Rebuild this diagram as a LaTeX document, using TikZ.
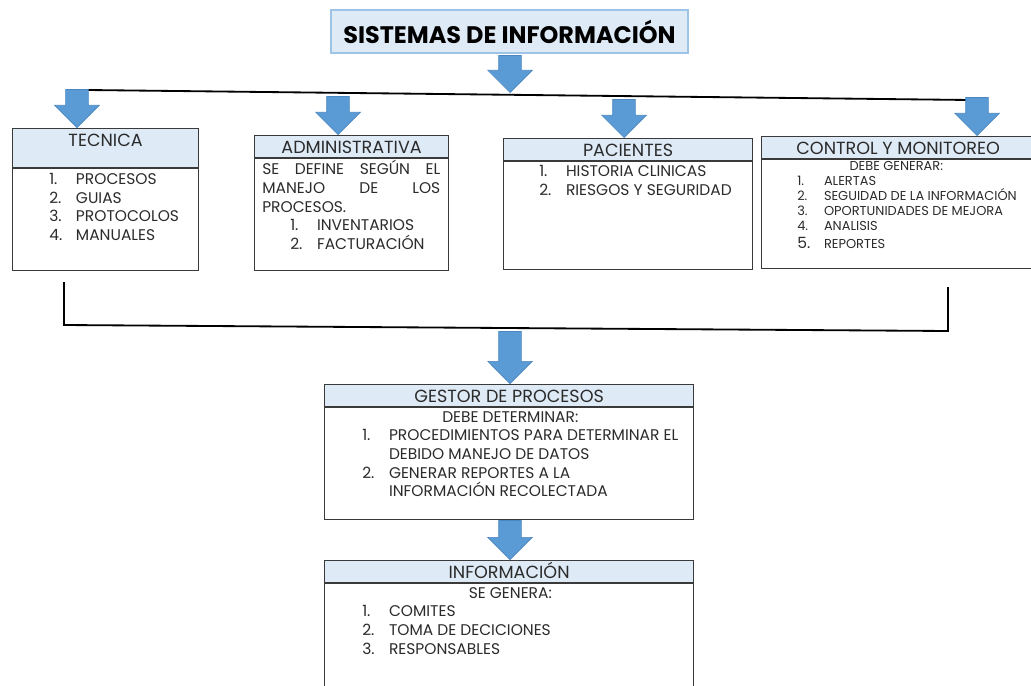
\documentclass[tikz,border=0pt]{standalone}
\usepackage{fontspec}
\setmainfont{Poppins}
\usetikzlibrary{positioning,shapes.arrows,calc}
\definecolor{ArrowBlue}{HTML}{5B9BD5}
\definecolor{ArrowEdge}{HTML}{4A86C0}
\definecolor{HeadBlue}{HTML}{DEEAF6}
\definecolor{TitleEdge}{HTML}{9DC3E6}
\definecolor{BoxEdge}{HTML}{3A3A3A}
\definecolor{TextGray}{HTML}{2B2B2B}

\newcommand{\nr}[1]{\makebox[19pt][l]{#1}}

\begin{document}
\begin{tikzpicture}[x=0.025cm, y=-0.025cm,
  titlebox/.style = {draw=TitleEdge, fill=HeadBlue, line width=0.8pt,
                     minimum width=8.925cm, minimum height=1.075cm,
                     font=\fontsize{17}{20}\selectfont\bfseries, text=black},
  headbox/.style  = {draw=BoxEdge, fill=HeadBlue, line width=0.8pt, inner sep=0pt,
                     text height=0.45cm, text depth=0.1cm, anchor=north west,
                     font=\fontsize{12.5}{15}\selectfont, text=TextGray},
  bodybox/.style  = {draw=BoxEdge, fill=white, line width=0.8pt, inner sep=0pt,
                     anchor=north},
  listtxt/.style  = {inner sep=0pt, align=left, anchor=north west, text=TextGray,
                     font=\fontsize{11}{13.3}\selectfont},
  blockarr/.style = {single arrow, shape border rotate=270, fill=ArrowBlue,
                     draw=ArrowEdge, line width=0.5pt, inner sep=0.275cm,
                     single arrow head extend=0.27cm, minimum height=0.95cm,
                     anchor=tip},
  bus/.style      = {line width=1.3pt, black}
]
  \useasboundingbox (0,0) rectangle (1031,685);

  % title and top bus
  \node[titlebox] (sis) at (509.5,31.5) {SISTEMAS DE INFORMACIÓN};
  \node[blockarr, minimum height=0.925cm] (asis) at (510,93) {};
  \coordinate (busl) at (88,90);
  \coordinate (busr) at (970,100);
  \draw[bus] (busl) -- (busr);

  \node[blockarr] (atec) at (77,128) {};
  \node[blockarr] (aadm) at (338,135) {};
  \node[blockarr] (apac) at (624,138) {};
  \node[blockarr] (acon) at (977,136) {};

  % tecnica
  \node[headbox, minimum width=4.65cm, text height=0.45cm, text depth=0.525cm]
    (tech) at (12,128) {TECNICA};
  \node[bodybox, minimum width=4.65cm, minimum height=2.55cm] (tecb) at (tech.south) {};
  \node[listtxt] (tect) at (49,173)
    {\nr{1.}PROCESOS\\ \nr{2.}GUIAS\\ \nr{3.}PROTOCOLOS\\ \nr{4.}MANUALES};

  % administrativa
  \node[headbox, minimum width=4.85cm] (admh) at (254,135) {ADMINISTRATIVA};
  \node[bodybox, minimum width=4.85cm, minimum height=2.8cm] (admb) at (admh.south) {};
  \node[listtxt] (admt) at (262,160)
    {\makebox[4.45cm][s]{SE DEFINE SEGÚN EL}\\
     \makebox[4.45cm][s]{MANEJO DE LOS}\\
     PROCESOS.\\
     \hspace*{0.7cm}\nr{1.}INVENTARIOS\\
     \hspace*{0.7cm}\nr{2.}FACTURACIÓN};

  % pacientes
  \node[headbox, minimum width=6.225cm] (pach) at (503,138) {PACIENTES};
  \node[bodybox, minimum width=6.225cm, minimum height=2.7cm] (pacb) at (pach.south) {};
  \node[listtxt] (pact) at (539,165)
    {\nr{1.}HISTORIA CLINICAS\\ \nr{2.}RIESGOS Y SEGURIDAD};

  % control y monitoreo
  \node[headbox, minimum width=6.825cm] (conh) at (761,136) {CONTROL Y MONITOREO};
  \node[bodybox, minimum width=6.825cm, minimum height=2.725cm] (conb) at (conh.south) {};
  \node[listtxt, font=\fontsize{9.2}{10.7}\selectfont] (cont) at (797,161)
    {\makebox[4.95cm][c]{DEBE GENERAR:}\\
     \nr{1.}ALERTAS\\ \nr{2.}SEGUIDAD DE LA INFORMACIÓN\\
     \nr{3.}OPORTUNIDADES DE MEJORA\\ \nr{4.}ANALISIS\\[2pt]
     \nr{\fontsize{11}{12}\selectfont 5.}REPORTES};

  % bottom bracket
  \coordinate (brl) at (64,282);
  \coordinate (brlb) at (64,325);
  \coordinate (brrb) at (948,331);
  \coordinate (brr) at (948,287);
  \draw[bus] (brl) -- (brlb) -- (brrb) -- (brr);

  % gestor de procesos
  \node[blockarr, minimum height=1.3cm] (ages) at (510,384) {};
  \node[headbox, minimum width=9.225cm] (gesh) at (324,384) {GESTOR DE PROCESOS};
  \node[bodybox, minimum width=9.225cm, minimum height=2.8cm] (gesb) at (gesh.south) {};
  \node[listtxt] (gest) at (362,411)
    {\makebox[7.4cm][c]{DEBE DETERMINAR:}\\
     \nr{1.}PROCEDIMIENTOS PARA DETERMINAR EL\\
     \nr{}DEBIDO MANEJO DE DATOS\\
     \nr{2.}GENERAR REPORTES A LA\\
     \nr{}INFORMACIÓN RECOLECTADA};

  % informacion
  \node[blockarr, minimum height=0.975cm] (ainf) at (510,560) {};
  \node[headbox, minimum width=9.225cm] (infh) at (324,560) {INFORMACIÓN};
  \node[bodybox, minimum width=9.225cm, minimum height=3cm] (infb) at (infh.south) {};
  \node[listtxt] (inft) at (362,587)
    {\makebox[7.4cm][c]{SE GENERA:}\\
     \nr{1.}COMITES\\ \nr{2.}TOMA DE DECICIONES\\ \nr{3.}RESPONSABLES};
\end{tikzpicture}
\end{document}
